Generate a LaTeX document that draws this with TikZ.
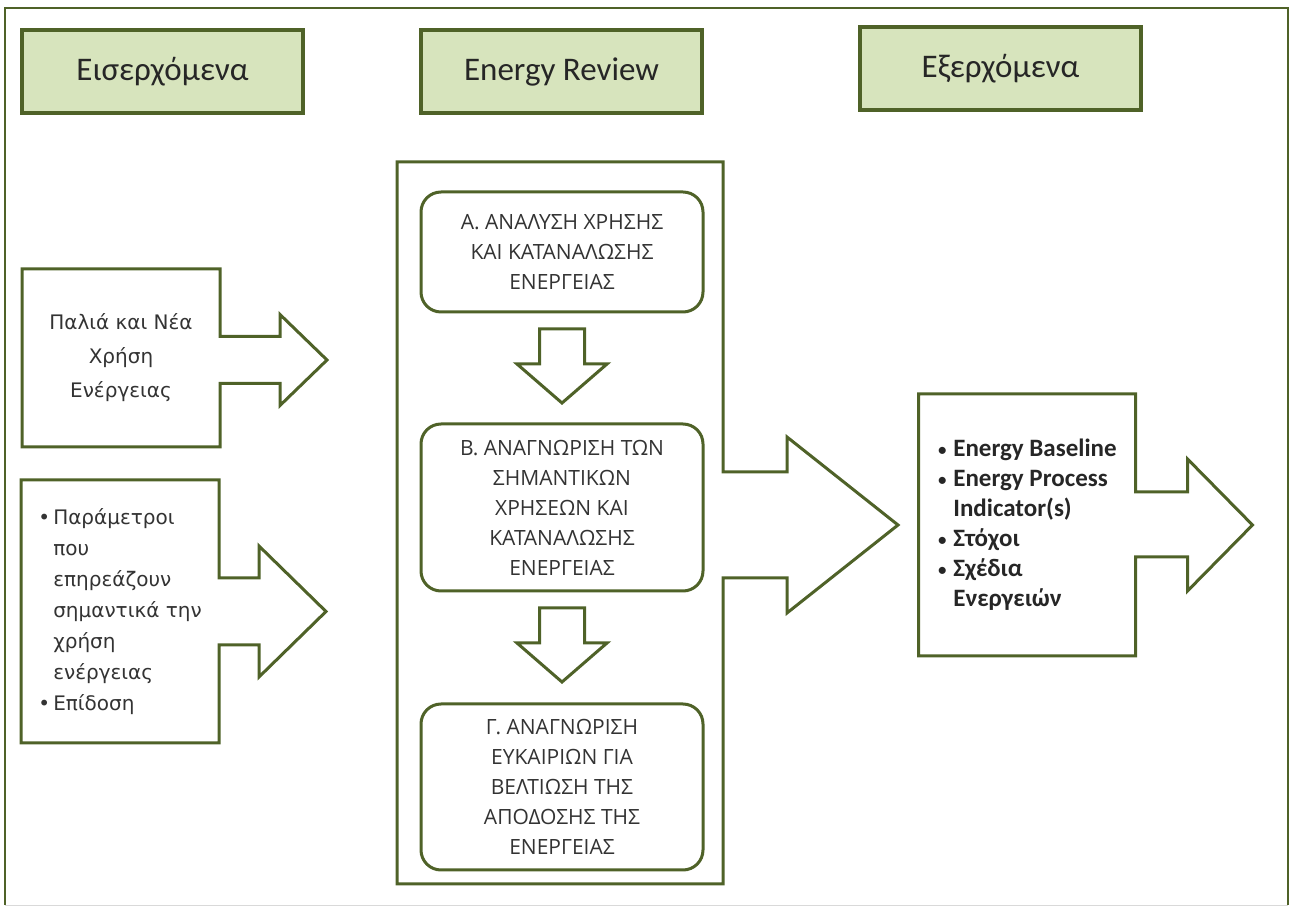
\documentclass[tikz,border=0pt]{standalone}
\usepackage{fontspec}
\setmainfont{Carlito}
\newfontfamily\inputfont{DejaVu Sans}
\newfontfamily\stagefont{Open Sans}
\usepackage{tikz}
\usetikzlibrary{calc,positioning}
\usepackage{xcolor}
\definecolor{olivedark}{HTML}{4F6228}
\definecolor{olivelight}{HTML}{D7E4BD}
\definecolor{textgrey}{HTML}{333333}
\definecolor{textdark}{HTML}{262626}
\definecolor{framegrey}{HTML}{D9D9D9}

\begin{document}
\begin{tikzpicture}[
  x=1pt, y=1pt,
  headerbox/.style={
    draw=olivedark,
    fill=olivelight,
    line width=3.5pt,
    minimum width=281pt,
    minimum height=83pt,
    inner sep=0pt,
    font=\fontsize{33pt}{39pt}\selectfont,
    text=textdark
  },
  stagebox/.style={
    draw=olivedark,
    rounded corners=20pt,
    line width=3pt,
    minimum width=282pt,
    inner sep=0pt,
    outer sep=0pt,
    align=center,
    font=\stagefont\fontsize{21pt}{30pt}\selectfont,
    text=textgrey
  },
  calloutbox/.style={
    inner sep=0pt,
    outer sep=0pt
  },
  calloutline/.style={
    draw=olivedark,
    line width=3pt,
    line join=miter
  },
  blockarrow/.style={
    draw=olivedark,
    line width=3pt,
    fill=white,
    line join=miter
  }
]

  \useasboundingbox (0,0) rectangle (1291,908);

  % Outer frame
  \draw[olivedark, line width=2.5pt] (5,3) -- (5,900) -- (1288,900) -- (1288,3);
  \draw[framegrey, line width=1pt] (5,3) -- (1288,3);

  % --- HEADER ROW ---
  \node[headerbox] (hin) at (162.5,836.5) {Εισερχόμενα};
  \node[headerbox] (hrev) at (561.5,836.5) {Energy Review};
  \node[headerbox] (hout) at (1000.5,839.5) {Εξερχόμενα};

  % --- INPUTS ---
  \node[calloutbox, minimum width=198pt, minimum height=178pt, align=center,
    font=\inputfont\fontsize{20pt}{34pt}\selectfont, text=textgrey] (oldnew) at (121,550)
    {Παλιά και Νέα\\Χρήση\\Ενέργειας};
  \draw[calloutline] (oldnew.north west) -- (oldnew.north east) -- ++(0,-67.5) -- ++(60,0)
    -- ++(0,22) -- ++(47,-45.5) -- ++(-47,-45.5) -- ++(0,22) -- ++(-60,0)
    -- (oldnew.south east) -- (oldnew.south west) -- cycle;

  \node[calloutbox, minimum width=198pt, minimum height=263pt, align=left,
    font=\inputfont\fontsize{20pt}{31pt}\selectfont, text=textgrey] (params) at (120,296.5)
    {\makebox[15pt][l]{\textbullet}Παράμετροι\\
     \hspace*{15pt}που\\
     \hspace*{15pt}επηρεάζουν\\
     \hspace*{15pt}σημαντικά την\\
     \hspace*{15pt}χρήση\\
     \hspace*{15pt}ενέργειας\\
     \makebox[15pt][l]{\textbullet}Επίδοση};
  \draw[calloutline] (params.north west) -- (params.north east) -- ++(0,-98) -- ++(40,0)
    -- ++(0,32) -- ++(67,-65.5) -- ++(-67,-65.5) -- ++(0,32) -- ++(-40,0)
    -- (params.south east) -- (params.south west) -- cycle;

  % --- ENERGY REVIEW ---
  \node[calloutbox, minimum width=326pt, minimum height=722pt] (review) at (560,385) {};
  \draw[calloutline] (review.north west) -- (review.north east) -- ++(0,-310) -- ++(64,0)
    -- ++(0,35) -- ++(111,-88) -- ++(-111,-88) -- ++(0,35) -- ++(-64,0)
    -- (review.south east) -- (review.south west) -- cycle;

  \node[stagebox, minimum height=120pt] (sa) at (562,656)
    {Α. ΑΝΑΛΥΣΗ ΧΡΗΣΗΣ\\ΚΑΙ ΚΑΤΑΝΑΛΩΣΗΣ\\ΕΝΕΡΓΕΙΑΣ};
  \node[stagebox, minimum height=167pt, below=112pt of sa] (sb)
    {Β. ΑΝΑΓΝΩΡΙΣΗ ΤΩΝ\\ΣΗΜΑΝΤΙΚΩΝ\\ΧΡΗΣΕΩΝ ΚΑΙ\\ΚΑΤΑΝΑΛΩΣΗΣ\\ΕΝΕΡΓΕΙΑΣ};
  \node[stagebox, minimum height=166pt, below=113pt of sb] (sg)
    {Γ. ΑΝΑΓΝΩΡΙΣΗ\\ΕΥΚΑΙΡΙΩΝ ΓΙΑ\\ΒΕΛΤΙΩΣΗ ΤΗΣ\\ΑΠΟΔΟΣΗΣ ΤΗΣ\\ΕΝΕΡΓΕΙΑΣ};

  % Down arrows between stages
  \draw[blockarrow] ($(sa.south)+(-22.5,-17)$) -- ++(45,0) -- ++(0,-35) -- ++(22.5,0)
    -- ++(-45,-39) -- ++(-45,39) -- ++(22.5,0) -- cycle;
  \draw[blockarrow] ($(sb.south)+(-22.5,-17)$) -- ++(45,0) -- ++(0,-35) -- ++(22.5,0)
    -- ++(-45,-39) -- ++(-45,39) -- ++(22.5,0) -- cycle;

  % --- OUTPUTS ---
  \node[calloutbox, minimum width=217pt, minimum height=262pt, align=left,
    font=\bfseries\fontsize{25pt}{30pt}\selectfont, text=textdark] (outputs) at (1027,383)
    {\makebox[16pt][l]{\mdseries\fontsize{20pt}{30pt}\selectfont\textbullet}Energy Baseline\\
     \makebox[16pt][l]{\mdseries\fontsize{20pt}{30pt}\selectfont\textbullet}Energy Process\\
     \hspace*{16pt}Indicator(s)\\
     \makebox[16pt][l]{\mdseries\fontsize{20pt}{30pt}\selectfont\textbullet}Στόχοι\\
     \makebox[16pt][l]{\mdseries\fontsize{20pt}{30pt}\selectfont\textbullet}Σχέδια\\
     \hspace*{16pt}Ενεργειών};
  \draw[calloutline] (outputs.north west) -- (outputs.north east) -- ++(0,-98) -- ++(52,0)
    -- ++(0,33) -- ++(65,-66) -- ++(-65,-66) -- ++(0,34) -- ++(-52,0)
    -- (outputs.south east) -- (outputs.south west) -- cycle;

\end{tikzpicture}
\end{document}
